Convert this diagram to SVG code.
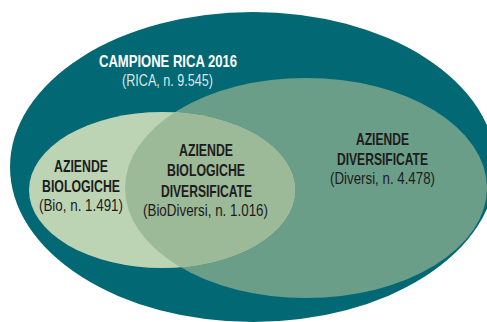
<svg xmlns="http://www.w3.org/2000/svg" width="487" height="322" viewBox="0 0 487 322">
<style>
.t{font-family:"Liberation Sans",Arial,sans-serif;font-size:16.5px;text-anchor:middle}
.b{font-weight:bold}
.d{fill:#1c1c1c}
.w{fill:#ffffff}
.g{fill:#d9e6e8}
</style>
<rect width="487" height="322" fill="#ffffff"/>
<g id="rica">
<ellipse cx="253" cy="167" rx="243" ry="155" fill="#026873"/>
<text class="t b w" x="168" y="67" textLength="138" lengthAdjust="spacingAndGlyphs">CAMPIONE RICA 2016</text>
<text class="t g" x="167.5" y="86" textLength="91" lengthAdjust="spacingAndGlyphs">(RICA, n. 9.545)</text>
</g>
<g id="diversi">
<ellipse cx="306" cy="188" rx="181" ry="110" fill="#6b9e88"/>
<text class="t b d" x="382.5" y="145" textLength="53" lengthAdjust="spacingAndGlyphs">AZIENDE</text>
<text class="t b d" x="382.5" y="165" textLength="91" lengthAdjust="spacingAndGlyphs">DIVERSIFICATE</text>
<text class="t d" x="382.5" y="184" textLength="105" lengthAdjust="spacingAndGlyphs">(Diversi, n. 4.478)</text>
</g>
<g id="bio">
<ellipse cx="162" cy="190" rx="133" ry="78" fill="#bcd4b4"/>
<text class="t b d" x="81" y="172" textLength="54" lengthAdjust="spacingAndGlyphs">AZIENDE</text>
<text class="t b d" x="81" y="192" textLength="78" lengthAdjust="spacingAndGlyphs">BIOLOGICHE</text>
<text class="t d" x="81" y="211" textLength="84" lengthAdjust="spacingAndGlyphs">(Bio, n. 1.491)</text>
</g>
<g id="biodiversi">
<clipPath id="cb"><ellipse cx="162" cy="190" rx="133" ry="78"/></clipPath>
<ellipse cx="306" cy="188" rx="181" ry="110" fill="#9cb998" clip-path="url(#cb)"/>
<text class="t b d" x="206" y="156" textLength="54" lengthAdjust="spacingAndGlyphs">AZIENDE</text>
<text class="t b d" x="206" y="176" textLength="78" lengthAdjust="spacingAndGlyphs">BIOLOGICHE</text>
<text class="t b d" x="206.5" y="197" textLength="91" lengthAdjust="spacingAndGlyphs">DIVERSIFICATE</text>
<text class="t d" x="205.5" y="216" textLength="125" lengthAdjust="spacingAndGlyphs">(BioDiversi, n. 1.016)</text>
</g>
<g id="connectors"/>
</svg>
